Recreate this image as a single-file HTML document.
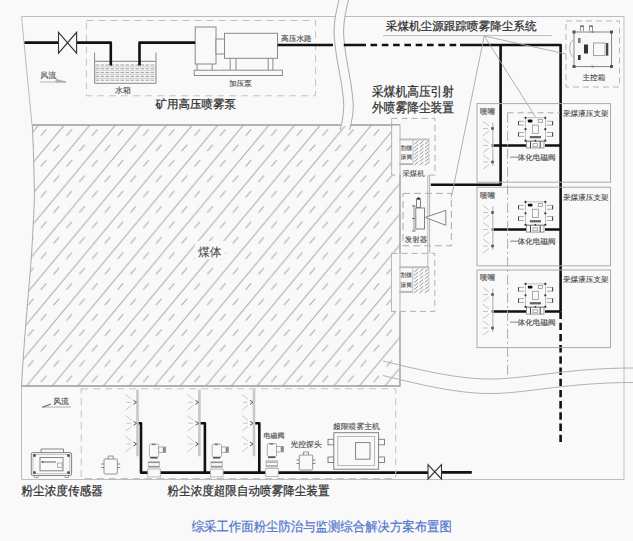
<!DOCTYPE html>
<html><head><meta charset="utf-8">
<style>
html,body{margin:0;padding:0;background:#f9f9f9;}
svg{display:block;text-rendering:geometricPrecision;}
.s{font-family:"Liberation Serif",serif;fill:#4a4a4a;stroke:#4a4a4a;stroke-width:0.12;}
.b{font-family:"Liberation Sans",sans-serif;fill:#2e2e2e;stroke:#2e2e2e;stroke-width:0.25;}
</style></head><body>
<svg width="633" height="541" viewBox="0 0 633 541">
<defs>
<pattern id="hatch" patternUnits="userSpaceOnUse" width="25.6" height="30.8" x="-11" y="0">
  <path d="M-25.6,30.8 L0,0 M0,30.8 L25.6,0 M25.6,30.8 L51.2,0" stroke="#a8a8a8" stroke-width="1.05"/>
  <path d="M0.6,12.6 l5.6,-6.6 M13.4,28 l5.6,-6.6 M26.2,12.6 l5.6,-6.6" stroke="#b0b0b0" stroke-width="1.1"/>
</pattern>
</defs>
<rect width="633" height="541" fill="#f9f9f9"/>

<!-- ===== outer frame ===== -->
<g stroke="#bdbdbd" stroke-width="1" fill="none">
  <path d="M21.5,16.5 H624 V479.5 H21.5 V386"/>
  <path d="M21.5,16.5 L32,125"/>
</g>

<!-- ===== hatched coal body ===== -->
<path d="M32.3,125 H400 V386 H21.5 C24,340 28,300 31.7,253 C33,225 35,200 34.3,187 C33.8,160 33,140 32.3,125 Z" fill="url(#hatch)"/>
<path d="M32.3,125 H400 V386 H21.5" fill="none" stroke="#999" stroke-width="1.3"/>
<path d="M21.5,386 C24,340 28,300 31.7,253 C33,225 35,200 34.3,187 C33.8,160 33,140 32.3,125" fill="none" stroke="#aaa" stroke-width="1"/>
<rect x="195" y="241" width="30" height="18" fill="#f9f9f9"/>
<text class="s" x="198" y="256" font-size="11.8" style="fill:#505050;stroke:#505050;stroke-width:0.1">煤体</text>

<!-- ===== top break curves ===== -->
<path d="M339,0 C336,12 333,25 334.5,40 C336,60 342,80 343.5,100 C344.5,112 342,122 340.6,126 H350.1 C351.5,122 354,112 353,100 C351.5,80 345.5,60 344,40 C342.5,25 345.5,12 348.5,0 Z" fill="#f9f9f9"/>
<g stroke="#aaa" stroke-width="1" fill="none">
<path d="M339,0 C336,12 333,25 334.5,40 C336,60 342,80 343.5,100 C344.5,112 342,122 340.2,130"/>
<path d="M348.5,0 C345.5,12 342.5,25 344,40 C345.5,60 351.5,80 353,100 C354,112 351.5,122 349.7,130"/>
</g>

<!-- ===== pump station ===== -->
<rect x="86.4" y="20.5" width="229.2" height="75.3" fill="none" stroke="#c2c2c2" stroke-width="1" stroke-dasharray="7,5"/>
<!-- tank -->
<g stroke="#999" stroke-width="0.8" fill="none">
  <path d="M94.6,52.6 V83.3 H156 V52.6" stroke="#888" stroke-width="1"/>
  <path d="M94.6,61.4 H156" stroke="#999" stroke-width="1.4"/>
  <path d="M94.6,66.9 H156 M94.6,70.7 H156 M94.6,74.5 H156 M94.6,78.3 H156" stroke="#bbb" stroke-width="0.7"/>
  <path d="M95.5,65 H156 M95.5,68.8 H156 M95.5,72.6 H156 M95.5,76.4 H156 M95.5,80.2 H156" stroke="#888" stroke-dasharray="3.6,1.4"/>
</g>
<text class="s" x="115" y="93" font-size="8">水箱</text>
<!-- pump -->
<g stroke="#8a8a8a" stroke-width="1" fill="#f9f9f9">
  <rect x="195.2" y="27" width="20.8" height="37"/>
  <rect x="216" y="39" width="8.5" height="15"/>
  <rect x="224.5" y="33.3" width="53" height="25"/>
  <rect x="194.2" y="70.2" width="88.2" height="5.3"/>
  <path d="M197,64 V70.2 M212.2,64 V70.2 M230.2,58.3 V70.2 M236,58.3 V70.2 M268.2,58.3 V70.2 M272.9,58.3 V70.2" fill="none"/>
</g>
<text class="s" x="229" y="86" font-size="7.6">加压泵</text>
<text class="s" x="281" y="41" font-size="7.7">高压水路</text>
<text class="b" x="155.6" y="108" font-size="11.5">矿用高压喷雾泵</text>
<!-- wind -->
<text class="s" x="40.2" y="77.8" font-size="8">风流</text>
<path d="M40.3,82 H66" stroke="#aaa" stroke-width="0.9"/>
<path d="M56,79.3 L66,82 H56 Z" stroke="#999" stroke-width="0.6" fill="#bbb"/>

<!-- ===== thick pipes ===== -->
<g stroke="#111" stroke-width="2.6" fill="none" stroke-linejoin="round">
  <path d="M24.5,42.6 H58.5 M76.6,42.6 H110.8 V65.5 M139.5,65.5 V42.6 H195.2"/>
  <path d="M277.6,45 H333 M343.8,45 H366 M460,45 H560.6 V311.5 M500.6,45 V184.8 H430.8"/>
  <path d="M370.5,45 H456.5" stroke-dasharray="6.6,4.7"/>
  <path d="M560.6,311.5 V443" stroke-dasharray="7.4,3.8"/>
  <path d="M492,145.5 H526 M545,145.5 H560.6"/>
  <path d="M492,229.5 H526 M545,229.5 H560.6"/>
  <path d="M492,311.5 H526 M545,311.5 H560.6"/>
  <path d="M137.4,423.3 H141 V472.6 H428 M441.5,472.4 H471.8 M198.4,423.3 H204.9 V472.6 M253,423.3 H259.3 V472.6"/>
</g>
<!-- valves -->
<g stroke="#333" stroke-width="1.1" fill="#f9f9f9">
  <path d="M58.5,32.3 L76.6,53.2 V32.3 L58.5,53.2 Z"/>
  <path d="M428,464.6 L441.5,479 V464.6 L428,479 Z"/>
</g>

<!-- ===== top label ===== -->
<text class="b" x="385.8" y="30.2" font-size="11.6">采煤机尘源跟踪喷雾降尘系统</text>
<path d="M383,35.6 H551.7" stroke="#aaa" stroke-width="0.8"/>
<g stroke="#a8a8a8" stroke-width="0.9" fill="none">
  <path d="M484.2,36 L450.8,200"/>
  <path d="M484.2,36 L535.5,117"/>
  <path d="M484.2,36 L566,54"/>
</g>
<text class="b" transform="translate(372,95.7) scale(0.895,1)" x="0" y="0" font-size="13.1">采煤机高压引射</text>
<text class="b" transform="translate(372,112) scale(0.895,1)" x="0" y="0" font-size="13.1">外喷雾降尘装置</text>

<!-- ===== main control box ===== -->
<rect x="566" y="21" width="53.5" height="66" fill="none" stroke="#b5b5b5" stroke-width="1" stroke-dasharray="6,4"/>
<g stroke="#777" stroke-width="0.9" fill="none">
  <rect x="574" y="32" width="37.6" height="34.6"/>
  <rect x="593.5" y="43" width="11.5" height="12.6" stroke="#999"/>
  <path d="M574,40 A4,8 0 0 0 574,57" stroke="#aaa"/>
  <path d="M580.5,31 V26 H583.5 V31 M589.5,31 V26 H592.5 V31" stroke="#888"/>
</g>
<g fill="#555">
  <rect x="572.5" y="30.5" width="3" height="3"/><rect x="610" y="30.5" width="3" height="3"/>
  <rect x="572.5" y="65" width="3" height="3"/><rect x="610" y="65" width="3" height="3"/>
  <rect x="591.5" y="31" width="2" height="2" fill="#888"/><rect x="591.5" y="65.5" width="2" height="2" fill="#888"/>
  <rect x="578" y="38" width="2.6" height="5" fill="#777"/>
  <rect x="584" y="44.5" width="4" height="9" fill="#333"/>
  <rect x="578" y="55" width="2.6" height="5" fill="#333"/>
  <rect x="606" y="43" width="2.3" height="12.6" fill="#444"/>
  <rect x="580" y="25.5" width="4" height="1.5" fill="#777"/><rect x="589" y="25.5" width="4" height="1.5" fill="#777"/>
</g>
<text class="s" x="582.5" y="80" font-size="7.6">主控箱</text>

<!-- ===== support boxes ===== -->
<g stroke="#aaa" stroke-width="1" fill="none">
  <rect x="477" y="103.6" width="133.5" height="78.6"/>
  <rect x="477" y="187.2" width="133.5" height="78.6"/>
  <rect x="477" y="270" width="133.5" height="77.6"/>
  <path d="M507.6,112.8 V378" stroke-dasharray="10,3,2,3"/>
  <path d="M507.6,112.8 H560" stroke-dasharray="6,4"/>
</g>
<g class="s" font-size="7.6">
  <text x="480" y="114.3">喷嘴</text><text x="563" y="115.5">采煤液压支架</text><text x="510" y="159.8">一体化电磁阀</text>
  <text x="480" y="198.3">喷嘴</text><text x="563" y="199.5">采煤液压支架</text><text x="510" y="243.5">一体化电磁阀</text>
  <text x="480" y="280.3">喷嘴</text><text x="563" y="281.5">采煤液压支架</text><text x="510" y="325">一体化电磁阀</text>
</g>

<!-- ===== shearer column ===== -->
<defs>
  <g id="drum">
    <!-- origin: drum top-left (face line x) -->
    <path d="M0,0 H30 M0,0.9 H30 M0,25.4 H13.6" stroke="#aaa" stroke-width="0.8"/>
    <path d="M15,5.2 l3.8,-3.3 M20.3,5.2 l3.8,-3.3 M25.6,5.2 l3.8,-3.3 M15,8.7 l3.8,-3.3 M20.3,8.7 l3.8,-3.3 M25.6,8.7 l3.8,-3.3 M15,12.2 l3.8,-3.3 M20.3,12.2 l3.8,-3.3 M25.6,12.2 l3.8,-3.3 M15,15.7 l3.8,-3.3 M20.3,15.7 l3.8,-3.3 M25.6,15.7 l3.8,-3.3 M15,19.2 l3.8,-3.3 M20.3,19.2 l3.8,-3.3 M25.6,19.2 l3.8,-3.3 M15,22.7 l3.8,-3.3 M20.3,22.7 l3.8,-3.3 M25.6,22.7 l3.8,-3.3 M15,26.2 l3.8,-3.3 M20.3,26.2 l3.8,-3.3 M25.6,26.2 l3.8,-3.3" stroke="#8c8c8c" stroke-width="0.9" fill="none"/>
    <path d="M0,24.6 H13.6 M0,25.4 H13.6 M13.6,0.5 V25.4" stroke="#aaa" stroke-width="0.7"/>
    <path d="M29.6,0.5 V25" stroke="#bbb" stroke-width="0.7"/>
    <text class="s" x="1.3" y="10.5" font-size="5.8" fill="#666">割煤</text>
    <text class="s" x="1.3" y="20" font-size="5.8" fill="#666">滚筒</text>
  </g>
</defs>
<rect x="391.6" y="118.4" width="43.4" height="56.7" fill="#f9f9f9" stroke="#b0b0b0" stroke-width="1" stroke-dasharray="6,4"/>
<rect x="391.5" y="253.4" width="43.3" height="58" fill="#f9f9f9" stroke="#b0b0b0" stroke-width="1" stroke-dasharray="6,4"/>
<path d="M391.6,118.4 V175.1 M391.5,253.4 V311.4" stroke="#b8b8b8" stroke-width="0.9"/>
<path d="M391.6,124.8 H400" stroke="#999" stroke-width="1.3"/>
<use href="#drum" x="399.4" y="139"/>
<use href="#drum" x="399.2" y="266.8"/>
<g stroke="#b5b5b5" stroke-width="1" fill="none">
  <path d="M400,124 V386"/>
  <path d="M427.8,175.1 V266.8 M429.6,175.1 V253.4"/>
</g>
<rect x="401" y="166" width="26" height="10" fill="#f9f9f9"/>
<text class="s" x="402.4" y="176" font-size="7.4">采煤机</text>
<!-- emitter -->
<rect x="403" y="193.4" width="48.4" height="52.4" fill="#f9f9f9" stroke="#aaa" stroke-width="1" stroke-dasharray="7,4"/>
<path d="M400,193 V246 M427.8,193 V246 M429.6,193 V246" stroke="#b5b5b5" stroke-width="1"/>
<g stroke="#777" stroke-width="0.9" fill="#f9f9f9">
  <rect x="415.8" y="208" width="8.7" height="21"/>
  <rect x="416.5" y="199" width="4" height="8.5"/>
  <path d="M425.3,217.4 L445.8,210.3 V225.3 Z"/>
  <path d="M414,205 V231" stroke="#bbb" stroke-width="1.6"/>
</g>
<ellipse cx="418.5" cy="198.6" rx="1.8" ry="1.1" fill="#222"/>
<path d="M412,206 h3.5 M412,218.5 h3 M412,231 h3.5" stroke="#666" stroke-width="0.9"/>
<text class="s" x="404.8" y="241.8" font-size="7.5">发射器</text>

<!-- ===== nozzles & valves on supports ===== -->
<defs>
  <g id="nozzle">
    <path d="M0.8,-23 V20.5" stroke="#c2c2c2" stroke-width="1.4"/>
    <g stroke="#bdbdbd" stroke-width="0.9" fill="none">
      <path d="M-3,-19.5 l-6,-4.5 M-3,-14.5 l-6,4.5 M-4,-17 h-5"/>
      <path d="M-3,-2.5 l-6,-4.5 M-3,2.5 l-6,4.5 M-4,0 h-5"/>
      <path d="M-3,14 l-6,-4.5 M-3,19 l-6,4.5 M-4,16.5 h-5"/>
    </g>
    <g fill="#555"><rect x="-0.8" y="-18.3" width="2.6" height="2.6"/><rect x="-0.8" y="-1.3" width="2.6" height="2.6" fill="#999"/><rect x="-0.8" y="15.2" width="2.6" height="2.6"/></g>
  </g>
  <g id="sv">
    <rect x="-9.9" y="-11.4" width="19.8" height="22.9" fill="#f9f9f9" stroke="#999" stroke-width="0.6"/>
    <g fill="#f9f9f9" stroke="#888" stroke-width="0.7">
      <path d="M-11.5,-7.9 H-16.9 V-4.1 H-11.5 M-11.5,3.3 H-16.9 V7.2 H-11.5 M11.5,-7.9 H17.2 V-4.1 H11.5 M11.5,3.3 H17.2 V7.2 H11.5" fill="none"/>
      <rect x="-2.9" y="-4.1" width="5.8" height="8.2"/>
      <rect x="2.9" y="-9.9" width="4.3" height="3.1"/>
      <rect x="-8.8" y="12.2" width="17.4" height="6.6" stroke="#777"/>
      <rect x="-2.4" y="14.5" width="4.6" height="3"/>
    </g>
    <path d="M-16.9,-8 V-4 M-16.9,3.2 V7.3 M17.2,-8 V-4 M17.2,3.2 V7.3" stroke="#444" stroke-width="1"/>
    <path d="M-4.9,12.2 V18.8 M4.8,12.2 V18.8" stroke="#444" stroke-width="1"/>
    <rect x="-7.6" y="-9.6" width="4.7" height="2.9" rx="1" fill="#111"/>
    <rect x="-5.6" y="6.8" width="11.2" height="2.3" fill="#666"/>
    <g fill="#333"><circle cx="-9.9" cy="-11.4" r="1.1"/><circle cx="9.9" cy="-11.4" r="1.1"/><circle cx="-9.9" cy="0" r="1.1"/><circle cx="9.9" cy="0" r="1.1"/><circle cx="-9.9" cy="11.5" r="1.1"/><circle cx="9.9" cy="11.5" r="1.1"/><circle cx="0" cy="11.5" r="0.9"/></g>
  </g>
</defs>
<use href="#nozzle" x="492" y="145.5"/>
<use href="#nozzle" x="492" y="229.5"/>
<use href="#nozzle" x="492" y="311.5"/>
<use href="#sv" x="535.4" y="129.2"/>
<use href="#sv" x="535.4" y="213.3"/>
<use href="#sv" x="535.4" y="295.3"/>

<!-- ===== bottom break curves ===== -->
<g stroke="#b2b2b2" stroke-width="1" fill="none">
  <path d="M383,361 C420,370 460,380 495,379 C530,378 570,368 633,368"/>
  <path d="M383,375.5 C420,384.5 460,394.5 495,393.5 C530,392.5 570,382.5 633,382.5"/>
</g>

<!-- ===== bottom roadway ===== -->
<rect x="81.2" y="388.8" width="314.5" height="89.7" fill="none" stroke="#c2c2c2" stroke-width="1" stroke-dasharray="7,5"/>
<text class="s" x="53.2" y="404.3" font-size="7.8">风流</text>
<path d="M42.3,407 H70.7" stroke="#999" stroke-width="0.8"/>
<path d="M42.3,407.2 L51,404" stroke="#666" stroke-width="1.1" fill="none"/>
<!-- dust sensor -->
<g stroke="#777" stroke-width="0.9" fill="#f9f9f9">
  <path d="M41,452.6 V449 H63.5 V452.6" fill="none"/>
  <path d="M34.5,475.5 V477.5 H38 V475.5 M65,475.5 V477.5 H68.5 V475.5" fill="none" stroke="#999"/>
  <rect x="31.3" y="452.6" width="40.3" height="22.9" rx="1.5"/>
  <rect x="33" y="454.3" width="36.9" height="19.5" fill="none" stroke="#aaa" stroke-width="0.7"/>
  <rect x="40" y="457.5" width="23" height="13.3"/>
  <path d="M42,462 H56" stroke="#555"/>
  <rect x="57.5" y="463" width="4.5" height="4.5" stroke="#999" stroke-width="0.7"/>
</g>
<g fill="#555"><circle cx="34.5" cy="455.5" r="1.5"/><circle cx="68.5" cy="455.5" r="1.5"/><circle cx="34.5" cy="472.5" r="1.5"/><circle cx="68.5" cy="472.5" r="1.5"/><circle cx="42.5" cy="462" r="1"/></g>
<!-- camera icons -->
<defs>
  <g id="cam">
    <rect x="-6.7" y="-4.5" width="13.4" height="15" fill="#f9f9f9" stroke="#888" stroke-width="0.9" rx="1"/>
    <path d="M-2.5,-4.5 V-7.5 H2.5 V-4.5" fill="none" stroke="#888" stroke-width="0.9"/>
    <path d="M-9.5,0.5 H-6.7 M-9.5,4 H-6.7 M6.7,0.5 H9.5 M6.7,4 H9.5" stroke="#777" stroke-width="0.9"/>
  </g>
  <g id="bv">
    <!-- origin: top-left of valve icon (x=147.6,y=444) -->
    <rect x="1.8" y="0" width="9.3" height="13" rx="1.5" fill="#f9f9f9" stroke="#9a9a9a" stroke-width="0.8"/>
    <rect x="4.2" y="-0.3" width="3.6" height="1.5" fill="#777"/>
    <rect x="11.1" y="3" width="7" height="5.4" fill="#f9f9f9" stroke="#999" stroke-width="0.8"/>
    <rect x="15.2" y="3.2" width="2.8" height="5" fill="#888"/>
    <rect x="2.6" y="13" width="7.3" height="1.6" fill="#555"/>
    <rect x="0.6" y="17.3" width="11.3" height="6.2" fill="#f9f9f9" stroke="#aaa" stroke-width="0.7"/>
    <path d="M0.6,18.6 H11.9 M0.6,22.4 H11.9" stroke="#888" stroke-width="1"/>
    <rect x="0.2" y="25" width="12.5" height="7.9" fill="#f9f9f9" stroke="#aaa" stroke-width="0.8"/>
  </g>
</defs>
<use href="#cam" x="110.7" y="463.5"/>
<use href="#cam" x="306" y="459.5"/>
<!-- nozzle bars bottom -->
<defs>
  <g id="bnoz">
    <path d="M1,-33.7 V33" stroke="#c8c8c8" stroke-width="2.6"/>
    <g stroke="#c2c2c2" stroke-width="0.9" fill="none">
      <path d="M-5,-24 l-6,-4.8 M-5,-18 l-6,4.8 M-5.5,-21 h-4.5"/>
      <path d="M-5,-3 l-6,-4.8 M-5,3 l-6,4.8 M-5.5,0 h-4.5"/>
      <path d="M-5,17.8 l-6,-4.8 M-5,23.8 l-6,4.8 M-5.5,20.8 h-4.5"/>
    </g>
    <g stroke="#555" stroke-width="1" fill="none"><path d="M-3,-23 L0,-21 L-3,-19"/><path d="M-3,-2 L0,0 L-3,2"/><path d="M-3,18.8 L0,20.8 L-3,22.8"/></g>
  </g>
</defs>
<use href="#bnoz" x="136.5" y="423.3"/>
<use href="#bnoz" x="198.4" y="423.3"/>
<use href="#bnoz" x="253" y="423.3"/>
<use href="#bv" x="147.6" y="444"/>
<use href="#bv" x="210.4" y="444"/>
<use href="#bv" x="265.5" y="443.5"/>
<text class="s" x="263.4" y="437.5" font-size="7">电磁阀</text>
<text class="s" x="290.5" y="446.5" font-size="7.8">光控探头</text>
<text class="s" x="333" y="429.3" font-size="7.8">超限喷雾主机</text>
<!-- host machine -->
<g stroke="#777" stroke-width="0.9" fill="#f9f9f9">
  <rect x="328" y="439.3" width="6" height="5.5"/><rect x="328" y="457" width="6" height="5.5"/>
  <rect x="378.5" y="439.3" width="6" height="5.5"/><rect x="378.5" y="457" width="6" height="5.5"/>
  <rect x="333.8" y="432.7" width="44.8" height="36.5"/>
  <rect x="337.8" y="436.5" width="36.8" height="29" stroke="#b0b0b0"/>
  <rect x="355.6" y="442.6" width="14.4" height="16.6"/>
</g>
<text class="b" transform="translate(21.5,495.3) scale(0.925,1)" font-size="12.55">粉尘浓度传感器</text>
<text class="b" transform="translate(167.5,495.3) scale(0.922,1)" font-size="12.55">粉尘浓度超限自动喷雾降尘装置</text>
<text transform="translate(191.7,531.3) scale(0.935,1)" font-size="13.25" font-family="Liberation Sans, sans-serif" fill="#4f74cc" stroke="#4f74cc" stroke-width="0.2">综采工作面粉尘防治与监测综合解决方案布置图</text>
</svg>
</body></html>
